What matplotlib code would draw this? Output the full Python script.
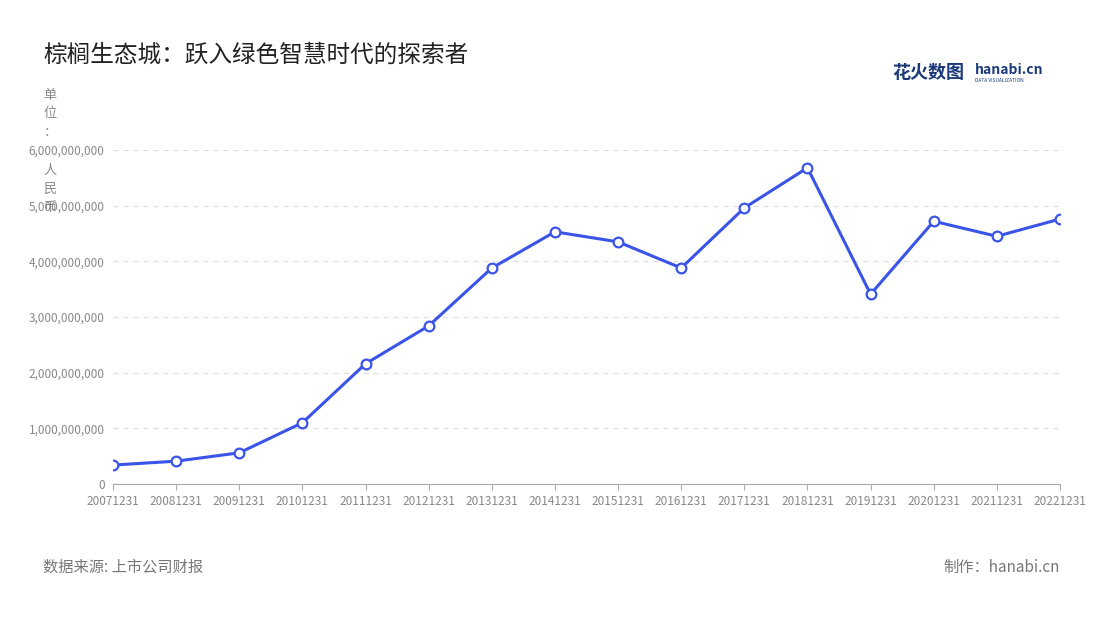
import matplotlib
matplotlib.use("Agg")
import matplotlib.pyplot as plt

plt.rcParams['font.family'] = ['Noto Sans CJK SC', 'DejaVu Sans']

years = ["20071231","20081231","20091231","20101231","20111231","20121231","20131231","20141231",
         "20151231","20161231","20171231","20181231","20191231","20201231","20211231","20221231"]
values = [0.34e9,0.41e9,0.56e9,1.10e9,2.16e9,2.84e9,3.88e9,4.53e9,
          4.35e9,3.88e9,4.96e9,5.68e9,3.41e9,4.72e9,4.45e9,4.76e9]

W, H = 1100, 620
fig = plt.figure(figsize=(W/100, H/100), dpi=100)
ax = fig.add_axes([113/W, 1-484/H, (1060-113)/W, (484-150)/H])
x = list(range(len(years)))
ax.plot(x, values, color='#3b54e8', lw=2.2, marker='o', ms=7, mfc='white', mec='#3b54e8', mew=1.6, zorder=3)
ax.set_xlim(0, len(years)-1)
ax.set_ylim(0, 6e9)
ticks = [i*1e9 for i in range(7)]
ax.set_yticks(ticks)
ax.set_yticklabels([f"{int(t):,}" for t in ticks], fontsize=8.5, color='#888888')
ax.set_xticks(x)
ax.set_xticklabels(years, fontsize=8.5, color='#888888')
ax.grid(axis='y', ls=(0, (4, 4)), color='#dddddd', lw=0.9)
for s in ['top', 'right', 'left']:
    ax.spines[s].set_visible(False)
ax.spines['bottom'].set_color('#aaaaaa')
ax.tick_params(axis='y', length=0, pad=6)
ax.tick_params(axis='x', length=4, color='#aaaaaa', pad=4)

fig.text(43/W, 1-55/H, "棕榈生态城：跃入绿色智慧时代的探索者", fontsize=17, color='#222222', va='center')
unit = "单位：人民币"
ys = [95, 113, 132, 170, 189, 207]
for ch, yy in zip(unit, ys):
    fig.text(50/W, 1-yy/H, ch, fontsize=9.5, color='#888888', ha='center', va='center')
fig.text(43/W, 1-567/H, "数据来源: 上市公司财报", fontsize=11, color='#777777', va='center')
fig.text(1060/W, 1-567/H, "制作：hanabi.cn", fontsize=11, color='#777777', va='center', ha='right')
fig.text(892/W, 1-73/H, "花火数图", fontsize=13, color='#1a3a7a', va='center', fontweight='bold')
fig.text(975/W, 1-70/H, "hanabi.cn", fontsize=10, color='#1a3a7a', va='center', fontweight='bold')
fig.text(975/W, 1-81/H, "DATA VISUALIZATION", fontsize=3.5, color='#1a3a7a', va='center')
fig.savefig("out.png", dpi=100, facecolor='white')
